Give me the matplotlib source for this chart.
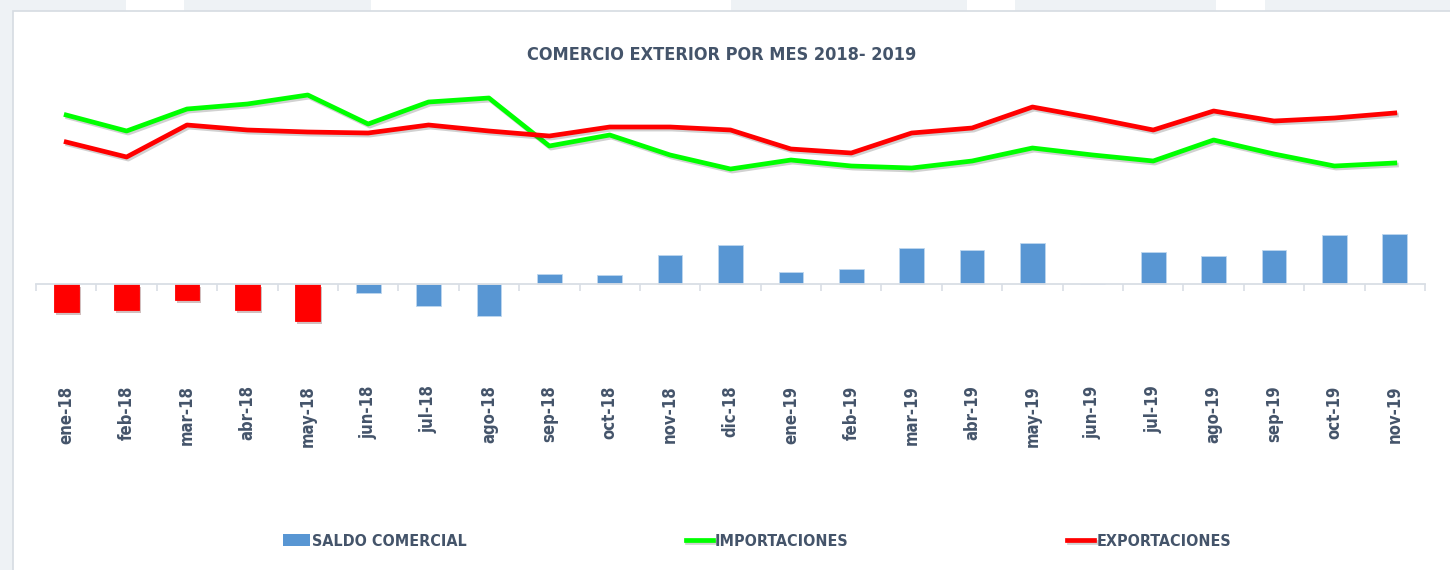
import numpy as np
import matplotlib.pyplot as plt
import matplotlib.patheffects as pe
from matplotlib.patches import Rectangle

# Monthly data (no scale is shown in the chart, values read relative to the zero line)
meses = ["ene-18", "feb-18", "mar-18", "abr-18", "may-18", "jun-18", "jul-18", "ago-18",
         "sep-18", "oct-18", "nov-18", "dic-18", "ene-19", "feb-19", "mar-19", "abr-19",
         "may-19", "jun-19", "jul-19", "ago-19", "sep-19", "oct-19", "nov-19"]

importaciones = [1690, 1530, 1750, 1800, 1890, 1600, 1820, 1860, 1380, 1490, 1290, 1150,
                 1240, 1180, 1160, 1230, 1360, 1290, 1230, 1440, 1300, 1180, 1210]
exportaciones = [1420, 1270, 1590, 1540, 1520, 1510, 1590, 1530, 1480, 1570, 1570, 1540,
                 1350, 1310, 1510, 1560, 1770, 1660, 1540, 1730, 1630, 1660, 1710]
saldo = [-280, -260, -160, -260, -370, -90, -220, -320, 100, 90, 290, 390,
         120, 150, 360, 340, 410, 0, 320, 280, 340, 490, 500]

# first months are highlighted in red in the original
colores_barras = ["#FF0000"] * 5 + ["#5896D3"] * 18

txt_color = "#44546A"
plt.rcParams['font.family'] = ['DejaVu Sans']
plt.rcParams['font.stretch'] = 'condensed'

fig = plt.figure(figsize=(14.5, 5.7), dpi=100)
fig.patch.set_facecolor("white")

# page background around the chart card
gris = "#EEF2F5"
W, H = 1450, 570
fig.patches.append(Rectangle((0, 0), 13 / W, 1, transform=fig.transFigure,
                             facecolor=gris, edgecolor="none", zorder=-6))
for x0, x1 in [(0, 126), (184, 371), (731, 967), (1015, 1216), (1265, 1450)]:
    fig.patches.append(Rectangle((x0 / W, 1 - 11 / H), (x1 - x0) / W, 11 / H,
                                 transform=fig.transFigure, facecolor=gris,
                                 edgecolor="none", zorder=-6))
fig.patches.append(Rectangle((13 / W, -0.01), 1, 1.01 - 11 / H, transform=fig.transFigure,
                             facecolor="white", edgecolor="#D6DCE2", linewidth=1.2, zorder=-5))

ax = fig.add_axes([36 / W, 1 - 340 / H, (1425 - 36) / W, 280 / H])
ax.set_zorder(2)
ax.set_facecolor("none")
x = np.arange(len(meses))

sombra = [pe.SimpleLineShadow(offset=(1.2, -1.5), alpha=0.18), pe.Normal()]

barras = ax.bar(x, saldo, width=0.41, color=colores_barras, edgecolor="#BDD7EE",
                linewidth=0.6, zorder=2)
for b, c in zip(barras, colores_barras):
    if c == "#FF0000":
        b.set_path_effects([pe.SimplePatchShadow(offset=(1.5, -2), alpha=0.25), pe.Normal()])
        b.set_edgecolor("#FF0000")
l_imp, = ax.plot(x, importaciones, color="#00FF00", linewidth=3.4, zorder=3,
                 path_effects=sombra)
l_exp, = ax.plot(x, exportaciones, color="#FF0000", linewidth=3.4, zorder=3,
                 path_effects=sombra)

ax.set_xlim(-0.5, len(meses) - 0.5)
ax.set_ylim(-560, 2240)
ax.set_yticks([])
for s in ["top", "right", "left"]:
    ax.spines[s].set_visible(False)
ax.spines["bottom"].set_position(("data", 0))
ax.spines["bottom"].set_color("#D9DEE5")
ax.spines["bottom"].set_linewidth(1.3)

ax.set_xticks(x)
ax.set_xticklabels(meses, rotation=90, fontsize=12, fontweight="bold", color=txt_color)
ax.tick_params(axis="x", which="major", length=0, pad=73)
ax.set_xticks(np.arange(-0.5, len(meses), 1), minor=True)
ax.tick_params(axis="x", which="minor", length=5, color="#D9DEE5", width=1.2)

fig.text(722 / W, 1 - 55 / H, "COMERCIO EXTERIOR POR MES 2018- 2019", ha="center",
         va="center", fontsize=13, fontweight="bold", color=txt_color)

muestra = Rectangle((0, 0), 1, 1, facecolor="#5896D3")
fig.legend([muestra, l_imp, l_exp], ["SALDO COMERCIAL", "IMPORTACIONES", "EXPORTACIONES"],
           loc="center", bbox_to_anchor=(757 / W, 1 - 541 / H), ncol=3, frameon=False,
           labelcolor=txt_color, handlelength=1.7, handletextpad=0.12,
           columnspacing=13.7, prop={"weight": "bold", "size": 11.5, "stretch": "condensed"})

plt.savefig("out.png", dpi=100)
